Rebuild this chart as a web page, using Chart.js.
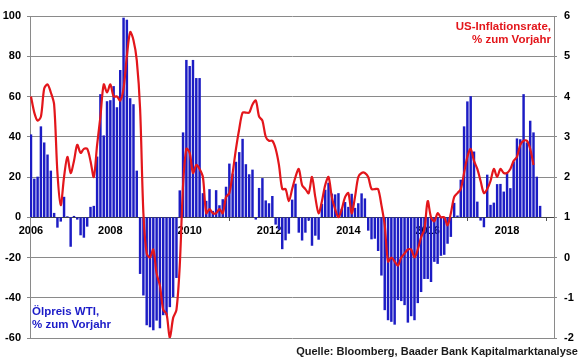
<!DOCTYPE html>
<html>
<head>
<meta charset="utf-8">
<script src="https://cdn.jsdelivr.net/npm/chart.js@4"></script>
<style>
  html, body { margin: 0; padding: 0; background: #fff; }
  #wrap { position: relative; width: 580px; height: 359px; }
  #chart { position: absolute; left: 0; top: 0; }
  .note { position: absolute; font-family: 'Liberation Sans', Arial, sans-serif; font-weight: bold; white-space: nowrap; }
  #inflNote { right: 29px; top: 20px; color: #e3161b; font-size: 11.5px; line-height: 12.5px; text-align: right; }
  #oilNote { left: 32px; top: 305px; color: #1c1cc8; font-size: 11.5px; line-height: 12.5px; }
  #src { right: 2px; top: 345px; color: #1a1a1a; font-size: 11px; line-height: 12.5px; }
</style>
</head>
<body>
<div id="wrap">
  <canvas id="chart" width="580" height="359"></canvas>
  <div class="note" id="inflNote">US-Inflationsrate,<br>% zum Vorjahr</div>
  <div class="note" id="oilNote">Ölpreis WTI,<br>% zum Vorjahr</div>
  <div class="note" id="src">Quelle: Bloomberg, Baader Bank Kapitalmarktanalyse</div>
</div>
<script>
// ============ DATA ============
// monthly, first value = Jan 2006
const yearLabels = ['2006','2008','2010','2012','2014','2016','2018'];

// WTI oil price, % yoy (bars, left axis), Jan 2006 - Nov 2018
const oilYoY = [
  41, 19, 20, 45, 37, 31, 23, 2, -5, -2, 10, 0.3,
  -14.5, 0.5, -1, -8.8, -10, -4.5, 5, 5.5, 30, 61, 40.5, 57.5,
  58, 65, 54.5, 73, 99, 98, 59, 56, 23, -28, -38.7, -53.5,
  -54.5, -56, -51.2, -55, -48.5, -48.5, -44.5, -39.5, -30, 13.2, 42, 78,
  75, 78, 69, 69, 11.8, 8, 13.8, 3, 13.3, 5.8, 8.8, 15,
  26.5, 21.5, 27.4, 32.2, 38.8, 26.2, 21.2, 23.5, -1, 14.4, 19.3, 8.2,
  6.8, 10.4, -3.5, -6, -15.7, -11.3, -8, 8.6, 16.5, -7.5, -11.4, -7.5,
  -1.5, -14, -9, -11, 6.5, 13.5, 17, 11.6, 11.2, 11.8, 4, 7.4,
  5, 11.5, 4.5, 6.8, 11.7, 9.2, -6.5, -10.8, -10.5, -16.6, -28.8, -46,
  -51, -51.8, -53.2, -41, -41.5, -43.5, -52.2, -49, -51, -42.5, -37, -30.5,
  -30.5, -32, -22, -23, -19, -18.5, -13, -9.6, 7, 0.7, 18.5, 45,
  57.4, 60, 32.5, 7.6, -1.5, -4.8, 21, 6, 7.1, 16.3, 16.4, 12.6,
  21.7, 14.3, 27.5, 39, 38.6, 61, 37, 47.8, 42, 20, 5.5
];

// US inflation rate, % yoy (line, right axis), Jan 2006 - Sep 2018
const cpiYoY = [
  4.0, 3.6, 3.4, 3.5, 4.2, 4.3, 4.1, 3.8, 2.1, 1.3, 2.0, 2.5,
  2.1, 2.4, 2.8, 2.6, 2.7, 2.7, 2.4, 2.0, 2.8, 3.5, 4.3, 4.1,
  4.3, 4.0, 4.0, 3.9, 4.2, 5.0, 5.6, 5.4, 4.9, 3.7, 1.1, 0.1,
  0.0, 0.2, -0.4, -0.7, -1.3, -1.4, -2.0, -1.5, -1.3, -0.2, 1.8, 2.7,
  2.6, 2.1, 2.3, 2.2, 2.0, 1.1, 1.2, 1.1, 1.1, 1.2, 1.1, 1.5,
  1.6, 2.1, 2.7, 3.2, 3.6, 3.6, 3.6, 3.8, 3.9, 3.5, 3.4, 3.0,
  2.9, 2.9, 2.7, 2.3, 1.7, 1.7, 1.4, 1.7, 2.0, 2.2, 1.8, 1.7,
  1.6, 2.0, 1.5, 1.1, 1.4, 1.8, 2.0, 1.5, 1.2, 1.0, 1.2, 1.5,
  1.6, 1.1, 1.5, 2.0, 2.1, 2.1, 2.0, 1.7, 1.7, 1.7, 1.3, 0.8,
  -0.1, 0.0, -0.1, -0.2, 0.0, 0.1, 0.2, 0.2, 0.0, 0.2, 0.5, 0.7,
  1.4, 1.0, 0.9, 1.1, 1.0, 1.0, 0.8, 1.1, 1.5, 1.6, 1.7, 2.1,
  2.5, 2.7, 2.4, 2.2, 1.9, 1.6, 1.7, 1.9, 2.2, 2.0, 2.2, 2.1,
  2.1, 2.2, 2.4, 2.5, 2.8, 2.9, 2.9, 2.7, 2.3
];

// ============ CHART ============
Chart.defaults.font.family = "'Liberation Sans', Arial, sans-serif";
Chart.defaults.font.weight = 'bold';
Chart.defaults.font.size = 11;
Chart.defaults.color = '#000';

const toPts = arr => arr.map((v, i) => ({ x: i, y: v }));
const gridCol = '#8a8a8a';

new Chart(document.getElementById('chart'), {
  data: {
    datasets: [
      {
        type: 'line',
        label: 'US-Inflationsrate',
        data: toPts(cpiYoY),
        yAxisID: 'y1',
        borderColor: '#e3161b',
        borderWidth: 2.2,
        pointRadius: 0,
        tension: 0.3,
        order: 0
      },
      {
        type: 'bar',
        label: 'Ölpreis WTI',
        data: toPts(oilYoY),
        yAxisID: 'y',
        backgroundColor: '#1c1cc4',
        borderWidth: 0,
        barThickness: 1.8,
        order: 1
      }
    ]
  },
  options: {
    responsive: false,
    animation: false,
    layout: { padding: { top: 16, bottom: 21, left: 0, right: 0 } },
    plugins: { legend: { display: false }, tooltip: { enabled: false } },
    scales: {
      x: {
        type: 'linear',
        position: { y: 0 },
        offset: false,
        min: -0.3,
        max: 158.2,
        afterBuildTicks: s => { s.ticks = yearLabels.map((_, k) => ({ value: k * 24 })); },
        ticks: { callback: (v, i) => yearLabels[i], padding: 4, maxRotation: 0, autoSkip: false },
        grid: { drawOnChartArea: false, tickLength: 3, color: '#555' },
        border: { color: '#444', width: 1 }
      },
      y: {
        position: 'left',
        min: -60, max: 100,
        ticks: { stepSize: 20, padding: 6 },
        grid: { color: gridCol, tickLength: 3 },
        border: { color: gridCol },
        afterFit: s => { s.width = 30; }
      },
      y1: {
        position: 'right',
        min: -2, max: 6,
        ticks: { stepSize: 1, padding: 7 },
        grid: { drawOnChartArea: false, color: gridCol, tickLength: 3 },
        border: { color: gridCol },
        afterFit: s => { s.width = 26; }
      }
    }
  }
});
</script>
</body>
</html>
